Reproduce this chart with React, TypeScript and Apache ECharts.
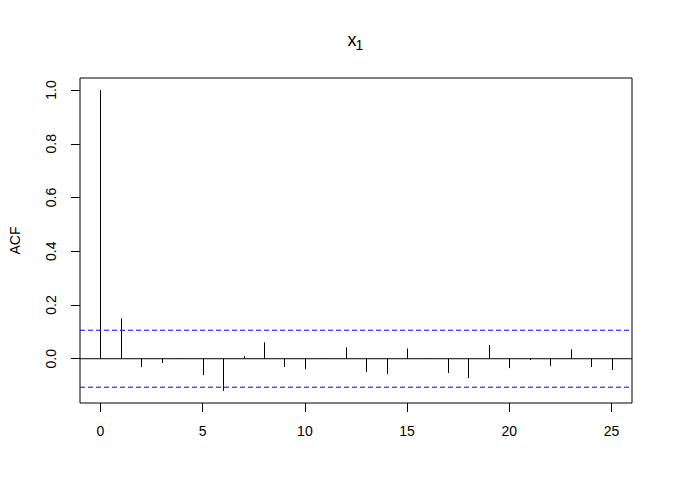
import React, { useEffect, useRef } from "react";
import * as echarts from "echarts";

const titleMain = "x";
const titleSub = "1";
const yAxisTitle = "ACF";
const lags = [0, 1, 2, 3, 4, 5, 6, 7, 8, 9, 10, 11, 12, 13, 14, 15, 16, 17, 18, 19, 20, 21, 22, 23, 24, 25];
const acfValues = [1.0, 0.15, -0.031, -0.016, 0.001, -0.061, -0.12, 0.009, 0.061, -0.031, -0.039, -0.001, 0.042, -0.05, -0.057, 0.038, 0.001, -0.053, -0.072, 0.051, -0.035, -0.005, -0.027, 0.035, -0.031, -0.042];
const ciBound = 0.106;
const xTicks = [0, 5, 10, 15, 20, 25];
const yTicks = [0, 0.2, 0.4, 0.6, 0.8, 1.0];

export default function App() {
  const ref = useRef<HTMLDivElement>(null);
  useEffect(() => {
    if (!ref.current) return;
    const chart = echarts.init(ref.current, null, { renderer: "svg" });
    const lo = Math.min(...acfValues, -ciBound);
    const hi = Math.max(...acfValues, ciBound);
    const yMin = lo - 0.04 * (hi - lo);
    const yMax = hi + 0.04 * (hi - lo);
    const xLo = Math.min(...lags);
    const xHi = Math.max(...lags);
    const xMin = xLo - 0.04 * (xHi - xLo);
    const xMax = xHi + 0.04 * (xHi - xLo);
    const font = "Liberation Sans, Arial, sans-serif";
    const stemData = lags.map((l, i) => [l, acfValues[i]]);
    chart.setOption({
      animation: false,
      grid: {
        left: 78,
        right: 41,
        top: 78,
        bottom: 98,
        show: true,
        borderColor: "#000",
        borderWidth: 1,
        backgroundColor: "transparent",
      },
      xAxis: {
        type: "value",
        min: xMin,
        max: xMax,
        axisLine: { show: false, onZero: false },
        splitLine: { show: false },
        axisTick: {
          show: true,
          inside: false,
          length: 9,
          lineStyle: { color: "#000" },
          customValues: xTicks,
        },
        axisLabel: {
          show: true,
          margin: 21,
          color: "#000",
          fontSize: 14,
          fontFamily: font,
          customValues: xTicks,
          formatter: (v: number) => String(v),
        },
      },
      yAxis: {
        type: "value",
        min: yMin,
        max: yMax,
        name: yAxisTitle,
        nameLocation: "middle",
        nameGap: 58,
        nameRotate: 90,
        nameTextStyle: { color: "#000", fontSize: 14, fontFamily: font },
        axisLine: { show: false, onZero: false },
        splitLine: { show: false },
        axisTick: {
          show: true,
          inside: false,
          length: 9,
          lineStyle: { color: "#000" },
          customValues: yTicks,
        },
        axisLabel: {
          show: true,
          rotate: 90,
          margin: 22,
          color: "#000",
          fontSize: 14,
          fontFamily: font,
          customValues: yTicks,
          formatter: (v: number) => v.toFixed(1),
        },
      },
      graphic: [
        {
          type: "text",
          x: 352,
          y: 39.5,
          style: {
            text: titleMain,
            fill: "#000",
            font: "18px " + font,
            align: "center",
            verticalAlign: "middle",
          },
        },
        {
          type: "text",
          x: 359.5,
          y: 44.5,
          style: {
            text: titleSub,
            fill: "#000",
            font: "14px " + font,
            align: "center",
            verticalAlign: "middle",
          },
        },
      ],
      series: [
        {
          type: "line",
          data: [[xMin, 0], [xMax, 0]],
          showSymbol: false,
          silent: true,
          lineStyle: { color: "#000", width: 1 },
        },
        {
          type: "line",
          data: [[xMin, ciBound], [xMax, ciBound]],
          showSymbol: false,
          silent: true,
          lineStyle: { color: "#0000FF", width: 1, type: [5, 3] },
        },
        {
          type: "line",
          data: [[xMin, -ciBound], [xMax, -ciBound]],
          showSymbol: false,
          silent: true,
          lineStyle: { color: "#0000FF", width: 1, type: [5, 3] },
        },
        {
          type: "custom",
          data: stemData,
          silent: true,
          renderItem: (params: any, api: any) => {
            const x = api.value(0);
            const y = api.value(1);
            const p0 = api.coord([x, 0]);
            const p1 = api.coord([x, y]);
            const px = Math.round(p0[0]) + 0.5;
            return {
              type: "line",
              shape: { x1: px, y1: p0[1], x2: px, y2: p1[1] },
              style: { stroke: "#000", lineWidth: 1 },
            };
          },
        },
      ],
    });
    return () => chart.dispose();
  }, []);
  return (
    <div
      ref={ref}
      style={{ position: "absolute", left: 0, top: 0, width: 673, height: 501, background: "#fff" }}
    />
  );
}
